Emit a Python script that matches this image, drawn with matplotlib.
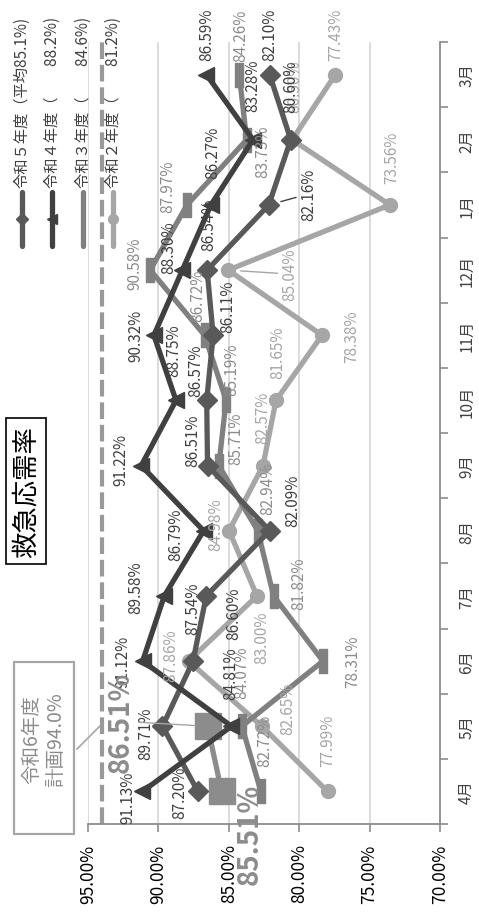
import matplotlib
matplotlib.use("Agg")
import matplotlib.pyplot as plt
from matplotlib.lines import Line2D
from matplotlib.patches import Rectangle
from matplotlib.path import Path

plt.rcParams['font.family'] = ['Noto Sans CJK JP', 'DejaVu Sans']

# ---- data -------------------------------------------------------------
months = ["4月", "5月", "6月", "7月", "8月", "9月", "10月", "11月", "12月", "1月", "2月", "3月"]
r5 = [87.20, 89.71, 87.54, 86.60, 82.09, 86.51, 86.57, 86.11, 86.54, 82.16, 80.60, 82.10]
r4 = [91.13, 84.81, 91.12, 89.58, 86.79, 91.22, 88.75, 90.32, 88.30, 86.27, 83.28, 86.59]
r3 = [82.72, 84.07, 78.31, 81.82, 82.94, 85.71, 85.19, 86.72, 90.58, 87.97, 83.73, 84.26]
r2 = [77.99, 82.65, 87.86, 83.00, 84.98, 82.57, 81.65, 78.38, 85.04, 73.56, 80.50, 77.43]
r6 = [85.51, 86.51]
r6_plan = 94.0
value_ticks = [95, 90, 85, 80, 75, 70]
legend_labels = ["令和５年度（平均85.1%)", "令和４年度（　　88.2%)",
                 "令和３年度（　　84.6%)", "令和２年度（　　81.2%)"]
title = "救急応需率"
plan_text = "令和6年度\n計画94.0%"

# ---- label offsets (pixels: dx right, dy down) ------------------------
off_r4 = [(-15, 5), (-1, -54), (-20, 0), (-29, -9), (-28, 3), (-20, -7),
          (-2, -51), (-18, 0), (-14, -23), (2, -53), (0, -55), (0, -41)]
off_r5 = [(-18, 0), (-17, 7), (0, -53), (27, 17), (23, -31), (-15, -26),
          (-11, -31), (15, -29), (2, -46), (40, -11), (0, -54), (0, -41)]
off_r3 = [(4, -52), (0, -54), (30, 0), (25, -13), (10, -43), (17, -28),
          (6, -32), (-7, -40), (-15, -7), (-19, -19), (16, 11), (2, -40)]
off_r2 = [(0, -52), (26, -18), (-18, -6), (5, 41), (-13, -7), (0, -49),
          (2, -49), (30, 0), (62, 4), (2, -48), (3, -54), (0, -41)]
off_r6 = [(28, 42), (-87, -5)]

W, H = 479, 920
fig = plt.figure(figsize=(W / 100, H / 100), dpi=100)
fig.patch.set_facecolor("white")


def fx(x):
    return x / W


def fy(y):
    return 1 - y / H


ax = fig.add_axes([fx(88), fy(825), (440 - 88) / W, (825 - 43) / H])
ax.set_xlim(95, 70)
ax.set_ylim(-0.5, len(months) - 0.5)

c4, c5, c3, c2, c6 = "#404040", "#595959", "#808080", "#a6a6a6", "#8c8c8c"
lab4, lab5, lab3, lab2 = "#404040", "#404040", "#8c8c8c", "#a6a6a6"

# vertical bar marker for 令和3
bar_marker = Path([(-0.18, -0.5), (0.18, -0.5), (0.18, 0.5), (-0.18, 0.5), (-0.18, -0.5)],
                  [Path.MOVETO, Path.LINETO, Path.LINETO, Path.LINETO, Path.CLOSEPOLY])

# grid
for v in value_ticks[:-1]:
    ax.axvline(v, color="#d9d9d9", lw=1.3, zorder=0)

# plan line
ax.axvline(r6_plan, color="#999999", lw=3, ls=(0, (4, 1.4)), zorder=1)

ypos = list(range(len(months)))
ax.plot(r2, ypos, color=c2, lw=3.8, marker="o", ms=10, zorder=3)
ax.plot(r3, ypos, color=c3, lw=3.8, marker=bar_marker, ms=17, zorder=4)
ax.plot(r6, ypos[:len(r6)], color=c6, lw=3.8, marker="s", ms=19, zorder=5)
ax.plot(r5, ypos, color=c5, lw=3.8, marker="D", ms=10, zorder=6)
ax.plot(r4, ypos, color=c4, lw=3.8, marker="<", ms=12, zorder=7)


def put_labels(vals, offs, color, size=11, weight="normal", leaders=(), lcolor=None):
    for i, (v, (dx, dy)) in enumerate(zip(vals, offs)):
        kw = {}
        if i in leaders:
            kw["arrowprops"] = dict(arrowstyle="-", color=lcolor or color, lw=1,
                                    shrinkA=1, shrinkB=9)
        ax.annotate(f"{v:.2f}%", xy=(v, i), xytext=(dx, -dy), textcoords="offset pixels",
                    rotation=90, ha="center", va="center", fontsize=size, color=color,
                    fontweight=weight, zorder=10, annotation_clip=False, **kw)


put_labels(r2, off_r2, lab2, leaders=(8,))
put_labels(r3, off_r3, lab3)
put_labels(r5, off_r5, lab5, leaders=(9,))
put_labels(r4, off_r4, lab4)
put_labels(r6, off_r6, c6, size=20, weight="bold", leaders=(1,), lcolor="#a6a6a6")

# axes styling
for s in ["top", "left"]:
    ax.spines[s].set_visible(False)
for s in ["bottom", "right"]:
    ax.spines[s].set_color("#8c8c8c")
    ax.spines[s].set_linewidth(1.3)

ax.set_xticks(value_ticks)
ax.set_xticklabels([f"{v:.2f}%" for v in value_ticks], rotation=90, fontsize=12.5, color="#000000")
ax.tick_params(axis="x", direction="out", length=6, width=1.2, color="#8c8c8c", pad=8)

ax.yaxis.tick_right()
ax.set_yticks(ypos)
ax.set_yticklabels(months, rotation=90, fontsize=11, color="#404040", va="center")
ax.tick_params(axis="y", which="major", length=0, pad=13)
ax.set_yticks([i - 0.5 for i in range(len(months) + 1)], minor=True)
ax.tick_params(axis="y", which="minor", direction="out", length=6, width=1.2, color="#8c8c8c")

# legend drawn as columns
leg_x = [22, 52, 83, 113]
leg_style = [(c5, "D", 6, None), (c4, "<", 7, None), (c3, None, 0, None), (c2, "o", 7, None)]
for x, lab, (col, mk, ms, _) in zip(leg_x, legend_labels, leg_style):
    fig.add_artist(Line2D([fx(x), fx(x)], [fy(247), fy(193)], transform=fig.transFigure,
                          color=col, lw=3.8, solid_capstyle="round",
                          marker=None))
    if mk:
        fig.add_artist(Line2D([fx(x)], [fy(220)], transform=fig.transFigure, color=col,
                              marker=mk, ms=ms, lw=0))
    fig.text(fx(x), fy(188), lab, rotation=90, ha="center", va="bottom",
             fontsize=11, color="#404040")

# title
fig.text(fx(26), fy(492), title, rotation=90, ha="center", va="center", fontsize=19,
         color="black", bbox=dict(boxstyle="square,pad=0.25", fc="white", ec="black", lw=1.2))

# plan callout
fig.add_artist(Rectangle((fx(14), fy(835)), (74 - 14) / W, (835 - 663) / H,
                         transform=fig.transFigure, fc="white", ec="#a6a6a6", lw=1.6, zorder=5))
fig.text(fx(44), fy(740), plan_text, rotation=90, ha="center", va="center",
         multialignment="center", fontsize=14, color="#8c8c8c", linespacing=1.15, zorder=6)
fig.add_artist(Line2D([fx(77), fx(100)], [fy(750), fy(727)], transform=fig.transFigure,
                      color="#a6a6a6", lw=1.2))

fig.savefig("out.png", dpi=100)
